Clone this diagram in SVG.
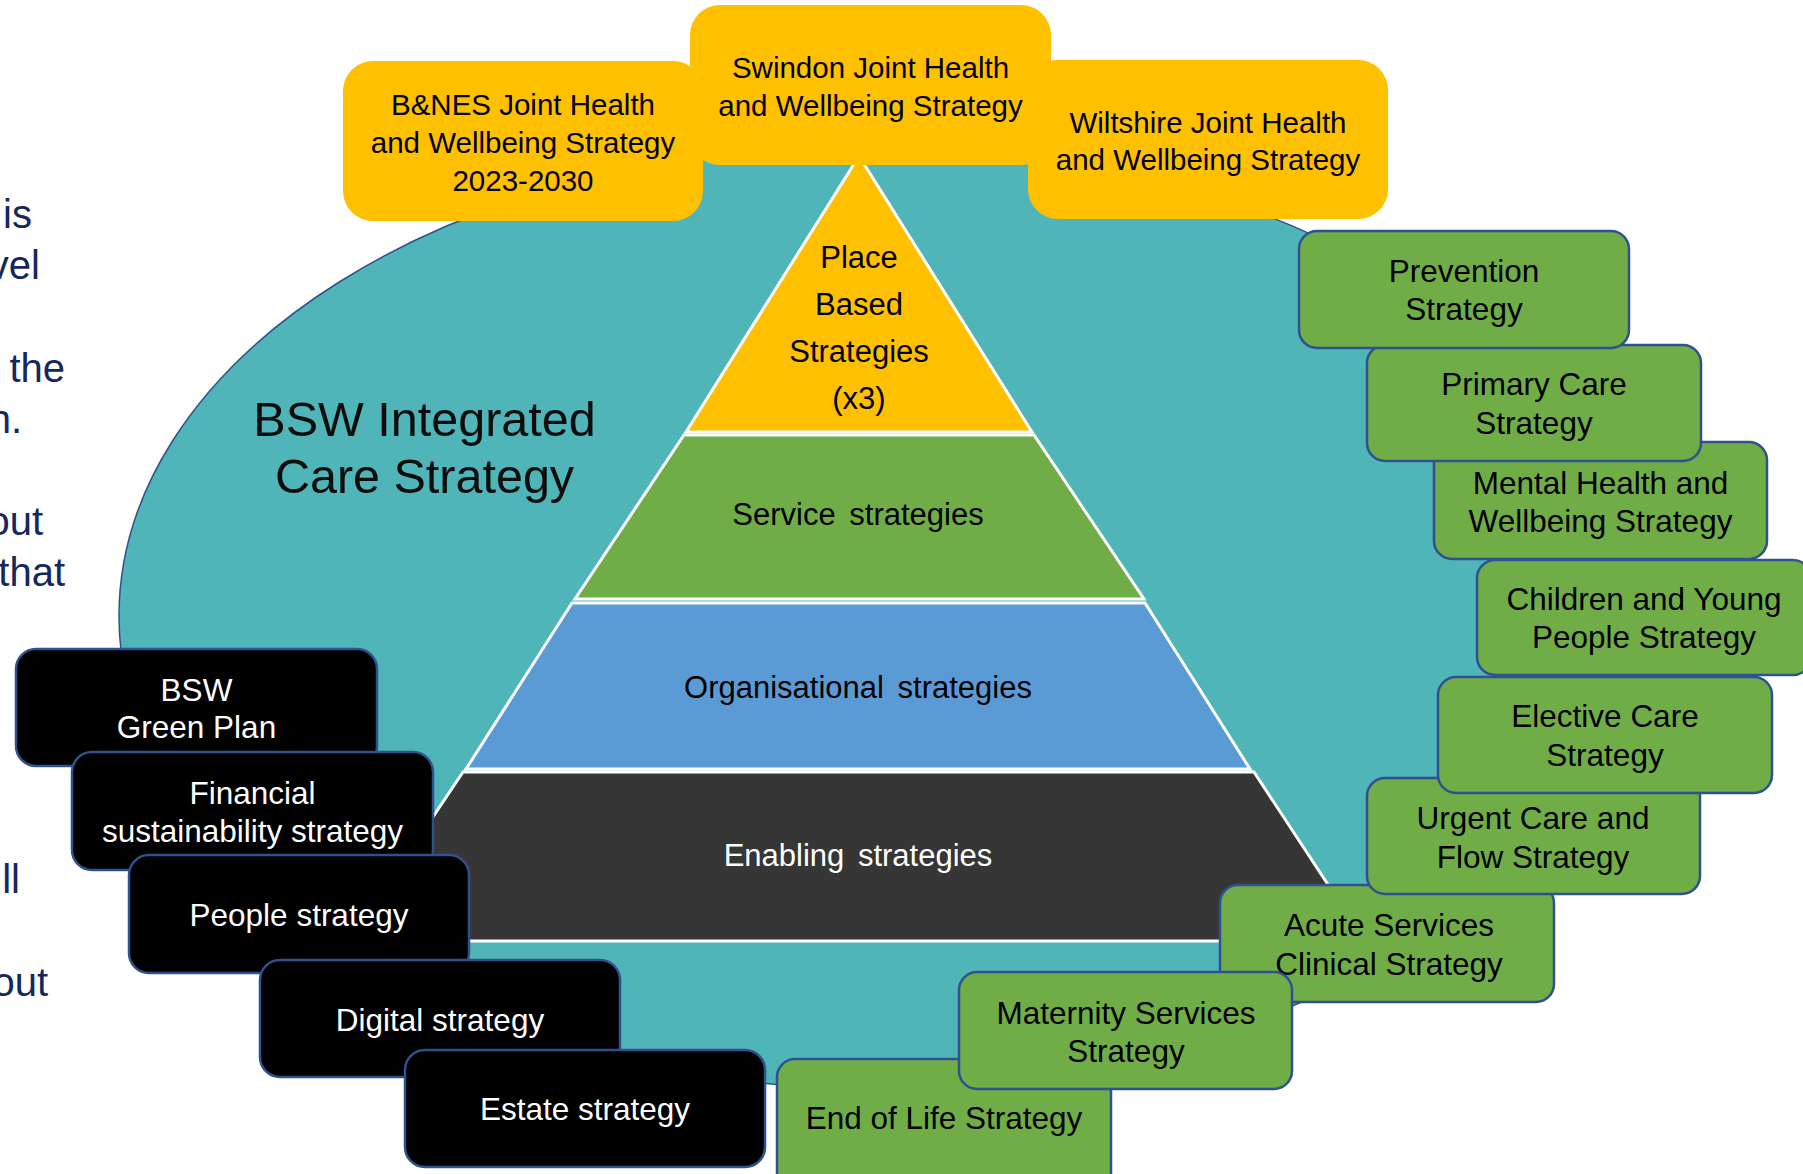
<svg xmlns="http://www.w3.org/2000/svg" width="1803" height="1174" viewBox="0 0 1803 1174">
<style>
text{font-family:"Liberation Sans",Arial,sans-serif;text-anchor:middle}
.yb{fill:#FFC000}
.gb{fill:#70AD47;stroke:#2F528F;stroke-width:2.5}
.bb{fill:#000000;stroke:#2F528F;stroke-width:2.5}
.layer{stroke:#FFFFFF;stroke-width:3;stroke-linejoin:miter}
.t30{font-size:29.5px;fill:#000}
.t31{font-size:31.5px;fill:#000}
.tw{font-size:31.5px;fill:#FFFFFF}
.tp{font-size:31px;fill:#000;word-spacing:5px}
.side{font-size:40px;fill:#14285E;text-anchor:end}
</style>
<rect x="0" y="0" width="1803" height="1174" fill="#FFFFFF"/>
<g id="ellipse">
<ellipse cx="869.5" cy="616" rx="750.5" ry="472" fill="#4FB5B8" stroke="#2F528F" stroke-width="1.5"/>
</g>
<g id="pyramid">
<polygon class="layer" points="859,156 1032,432 686,432" fill="#FFC000"/>
<polygon class="layer" points="684,435 1034,435 1144,599 575,599" fill="#70AD47"/>
<polygon class="layer" points="572,603 1145,603 1250,769 466,769" fill="#5B9BD5"/>
<polygon class="layer" points="463,772 1254,772 1365,941 350,941" fill="#363636"/>
<text class="tp" x="859" y="268">Place</text>
<text class="tp" x="859" y="315">Based</text>
<text class="tp" x="859" y="361.5">Strategies</text>
<text class="tp" x="859" y="409">(x3)</text>
<text class="tp" x="858" y="525">Service strategies</text>
<text class="tp" x="858" y="698">Organisational strategies</text>
<text class="tp" x="858" y="866" style="fill:#FFFFFF">Enabling strategies</text>
</g>
<g id="title">
<text x="424.5" y="436" font-size="48.5" fill="#0D0D0D">BSW Integrated</text>
<text x="424.5" y="493" font-size="48.5" fill="#0D0D0D">Care Strategy</text>
</g>
<g id="side-text">
<text class="side" x="32" y="228">is</text>
<text class="side" x="40" y="279">vel</text>
<text class="side" x="65" y="382">the</text>
<text class="side" x="22" y="433">n.</text>
<text class="side" x="43" y="535">out</text>
<text class="side" x="65" y="586">that</text>
<text class="side" x="20" y="893">ll</text>
<text class="side" x="48" y="996">out</text>
</g>
<g id="bnes">
<rect class="yb" x="343" y="61" width="360" height="160" rx="30"/>
<text class="t30" x="523" y="115">B&amp;NES Joint Health</text>
<text class="t30" x="523" y="153">and Wellbeing Strategy</text>
<text class="t30" x="523" y="191">2023-2030</text>
</g>
<g id="wiltshire">
<rect class="yb" x="1028" y="60" width="360" height="159" rx="30"/>
<text class="t30" x="1208" y="133">Wiltshire Joint Health</text>
<text class="t30" x="1208" y="170">and Wellbeing Strategy</text>
</g>
<g id="swindon">
<rect class="yb" x="690" y="5" width="361" height="160" rx="30"/>
<text class="t30" x="870.5" y="78">Swindon Joint Health</text>
<text class="t30" x="870.5" y="115.5">and Wellbeing Strategy</text>
</g>
<g id="green-plan">
<rect class="bb" x="16" y="649" width="361" height="117" rx="20"/>
<text class="tw" x="196.5" y="700.5">BSW</text>
<text class="tw" x="196.5" y="738">Green Plan</text>
</g>
<g id="financial">
<rect class="bb" x="72" y="752" width="361" height="118" rx="20"/>
<text class="tw" x="252.5" y="803.5">Financial</text>
<text class="tw" x="252.5" y="841.5">sustainability strategy</text>
</g>
<g id="people">
<rect class="bb" x="129" y="855" width="340" height="118" rx="20"/>
<text class="tw" x="299" y="925.5">People strategy</text>
</g>
<g id="digital">
<rect class="bb" x="260" y="960" width="360" height="117" rx="20"/>
<text class="tw" x="440" y="1031">Digital strategy</text>
</g>
<g id="estate">
<rect class="bb" x="405" y="1050" width="360" height="117" rx="20"/>
<text class="tw" x="585" y="1120">Estate strategy</text>
</g>
<g id="end-of-life">
<rect class="gb" x="777" y="1059" width="334" height="135" rx="18"/>
<text class="t31" x="944" y="1129">End of Life Strategy</text>
</g>
<g id="acute">
<rect class="gb" x="1220" y="885" width="334" height="117" rx="18"/>
<text class="t31" x="1389" y="936">Acute Services</text>
<text class="t31" x="1389" y="974.5">Clinical Strategy</text>
</g>
<g id="maternity">
<rect class="gb" x="959" y="972" width="333" height="117" rx="18"/>
<text class="t31" x="1126" y="1024">Maternity Services</text>
<text class="t31" x="1126" y="1062">Strategy</text>
</g>
<g id="urgent">
<rect class="gb" x="1367" y="778" width="333" height="116" rx="18"/>
<text class="t31" x="1533" y="829">Urgent Care and</text>
<text class="t31" x="1533" y="868">Flow Strategy</text>
</g>
<g id="elective">
<rect class="gb" x="1438" y="677" width="334" height="116" rx="18"/>
<text class="t31" x="1605" y="727">Elective Care</text>
<text class="t31" x="1605" y="765.5">Strategy</text>
</g>
<g id="children">
<rect class="gb" x="1477" y="560" width="334" height="115" rx="18"/>
<text class="t31" x="1644" y="610">Children and Young</text>
<text class="t31" x="1644" y="648">People Strategy</text>
</g>
<g id="mental-health">
<rect class="gb" x="1434" y="442" width="333" height="117" rx="18"/>
<text class="t31" x="1600.5" y="494">Mental Health and</text>
<text class="t31" x="1600.5" y="532">Wellbeing Strategy</text>
</g>
<g id="primary-care">
<rect class="gb" x="1367" y="345" width="334" height="116" rx="18"/>
<text class="t31" x="1534" y="395">Primary Care</text>
<text class="t31" x="1534" y="433.5">Strategy</text>
</g>
<g id="prevention">
<rect class="gb" x="1299" y="231" width="330" height="117" rx="18"/>
<text class="t31" x="1464" y="282">Prevention</text>
<text class="t31" x="1464" y="320">Strategy</text>
</g>
<g id="connectors"/>
</svg>
